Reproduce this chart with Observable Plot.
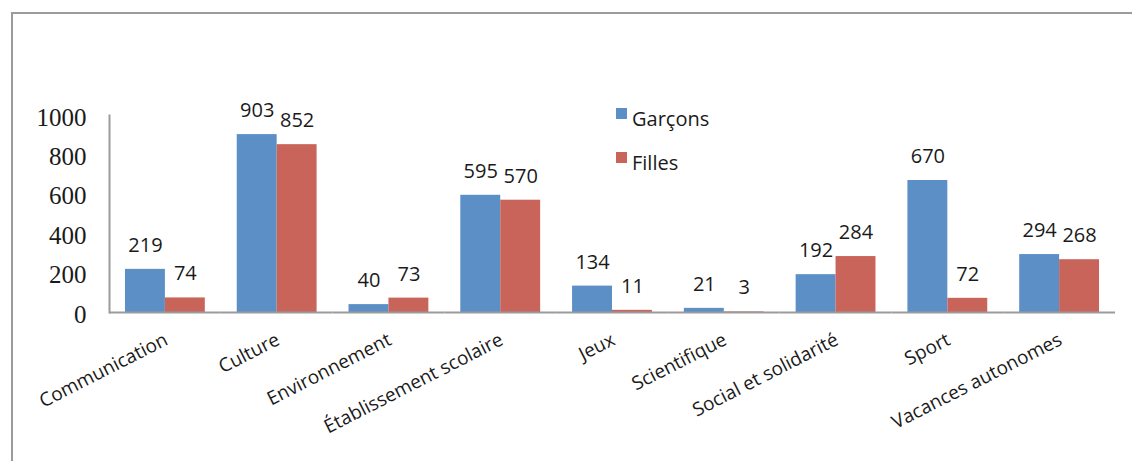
<!DOCTYPE html>
<html><head><meta charset="utf-8">
<script src="https://cdn.jsdelivr.net/npm/d3@7"></script>
<script src="https://cdn.jsdelivr.net/npm/@observablehq/plot@0.6"></script>
<style>
body{margin:0;background:#fff;}
#wrap{position:relative;width:1132px;height:461px;overflow:hidden;background:#fff;}
#chart{position:absolute;left:0;top:0;}
#border{position:absolute;left:11px;top:12px;width:1300px;height:600px;border-left:2px solid #9b9b9b;border-top:2px solid #9b9b9b;pointer-events:none;}
.sw{position:absolute;left:616px;width:11px;height:11px;}
.lt{position:absolute;left:632px;font-family:"Open Sans";font-size:20px;line-height:20px;color:#1a1a1a;white-space:nowrap;}
</style>
</head><body>
<div id="wrap"><div id="chart"></div><div id="border"></div><div id="legend"></div></div>
<script>
const categories = ["Communication","Culture","Environnement","Établissement scolaire","Jeux","Scientifique","Social et solidarité","Sport","Vacances autonomes"];
const series = ["Garçons","Filles"];
const garcons = [219, 903, 40, 595, 134, 21, 192, 670, 294];
const filles = [74, 852, 73, 570, 11, 3, 284, 72, 268];
const colors = ["#5b8fc6","#c9645b"];
const yTicks = [0, 200, 400, 600, 800, 1000];

const rows = [];
categories.forEach((c, i) => {
  rows.push({cat: c, serie: series[0], value: garcons[i]});
  rows.push({cat: c, serie: series[1], value: filles[i]});
});

const chart = Plot.plot({
  width: 1132, height: 461,
  marginLeft: 109, marginRight: 17, marginTop: 115, marginBottom: 149,
  style: {background: "transparent", fontFamily: "Open Sans", color: "#1a1a1a"},
  fx: {domain: categories, padding: 0, round: false, label: null, axis: null},
  x: {domain: series, paddingInner: 0, paddingOuter: 0.4, round: false, axis: null},
  y: {domain: [0, 1000], axis: null},
  color: {domain: series, range: colors},
  marks: [
    Plot.barY(rows, {fx: "cat", x: "serie", y: "value", fill: "serie"}),
    Plot.ruleY([0], {stroke: "#9b9b9b", strokeWidth: 2}),
    Plot.frame({anchor: "left", facetAnchor: "left", stroke: "#9b9b9b", strokeWidth: 2}),
    Plot.text(rows, {fx: "cat", x: "serie", y: "value", text: d => String(d.value), dy: -24, fontSize: 20, fontFamily: "Open Sans", fill: "#1a1a1a"}),
    Plot.axisY({ticks: yTicks, tickSize: 0, tickPadding: 23, fontSize: 25, fontFamily: "Liberation Serif", label: null, dy: 2, tickFormat: d => String(d), fill: "#1a1a1a"}),
    Plot.axisFx({anchor: "bottom", tickSize: 0, tickPadding: 26, tickRotate: -27, textAnchor: "end", lineAnchor: "middle", dx: 1, fontSize: 19, fontFamily: "Open Sans", label: null, fill: "#1a1a1a"})
  ]
});
document.getElementById("chart").appendChild(chart);

const legend = document.getElementById("legend");
const legendTops = [108, 152];
series.forEach((s, i) => {
  const sw = document.createElement("div");
  sw.className = "sw";
  sw.style.top = legendTops[i] + "px";
  sw.style.background = colors[i];
  legend.appendChild(sw);
  const t = document.createElement("div");
  t.className = "lt";
  t.style.top = (legendTops[i] + 1) + "px";
  t.textContent = s;
  legend.appendChild(t);
});
</script>
</body></html>
